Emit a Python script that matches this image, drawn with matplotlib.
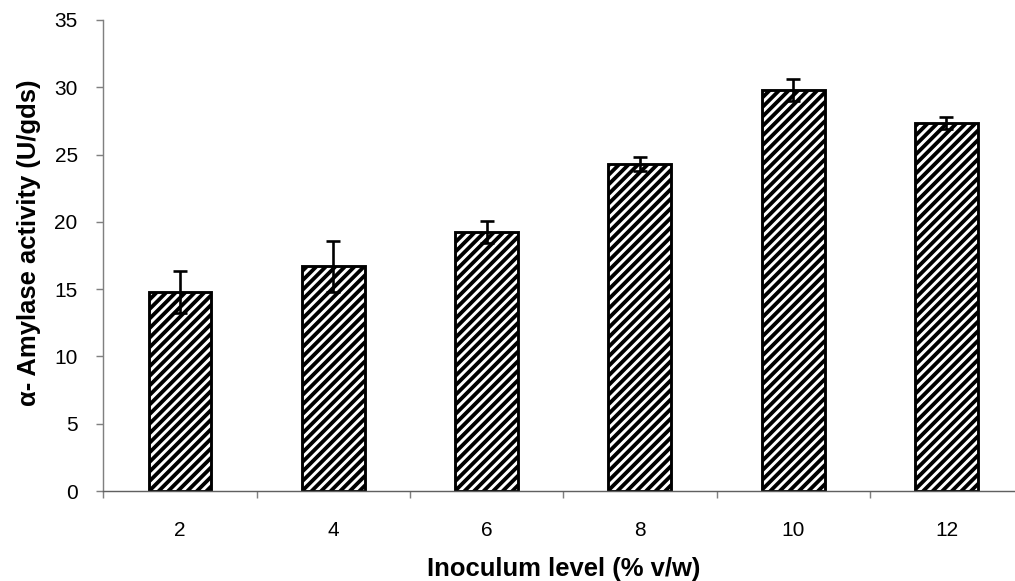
import matplotlib
matplotlib.use("Agg")
import matplotlib.pyplot as plt
import numpy as np

# dados
inoculo = ["2", "4", "6", "8", "10", "12"]
atividade = [14.8, 16.7, 19.25, 24.3, 29.8, 27.35]
erro = [1.56, 1.9, 0.8, 0.55, 0.8, 0.42]

plt.rcParams["font.family"] = ["Liberation Sans", "DejaVu Sans"]
plt.rcParams["hatch.linewidth"] = 3.2
plt.rcParams["hatch.color"] = "black"

dpi = 86
fig = plt.figure(figsize=(1015 / dpi, 581 / dpi), dpi=dpi)
ax = fig.add_axes([0.1018, 0.1549, 0.9062, 0.8107])

x = np.arange(len(inoculo))
ax.bar(x, atividade, width=0.41, color="white", edgecolor="black",
       linewidth=2.4, hatch="///", zorder=2)
ax.errorbar(x, atividade, yerr=erro, fmt="none", ecolor="black",
            elinewidth=2.2, capsize=5.5, capthick=2.2, zorder=3)

ax.set_xlim(-0.5, len(inoculo) - 0.5)
ax.set_ylim(0, 35)
ax.set_yticks(range(0, 36, 5))
ax.set_xticks(x)
ax.set_xticklabels(inoculo)
ax.set_xticks(np.arange(-0.5, len(inoculo), 1.0), minor=True)

ax.tick_params(axis="x", which="major", length=0, pad=25, labelsize=17.5)
ax.tick_params(axis="x", which="minor", length=6, width=1.2, color="#808080", direction="out")
ax.tick_params(axis="y", length=6, width=1.2, color="#808080", direction="out", pad=15.5, labelsize=17.5)

for s in ["top", "right"]:
    ax.spines[s].set_visible(False)
ax.spines["left"].set_color("#808080")
ax.spines["bottom"].set_color("#606060")
ax.spines["left"].set_linewidth(1.2)
ax.spines["bottom"].set_linewidth(1.2)

ax.set_xlabel("Inoculum level (% v/w)", fontsize=21.5, fontweight="bold", labelpad=14)
ax.set_ylabel("α- Amylase activity (U/gds)", fontsize=21.5, fontweight="bold", labelpad=10.7)
ax.yaxis.label.set_y(0.527)

fig.savefig("out.png", dpi=dpi)
